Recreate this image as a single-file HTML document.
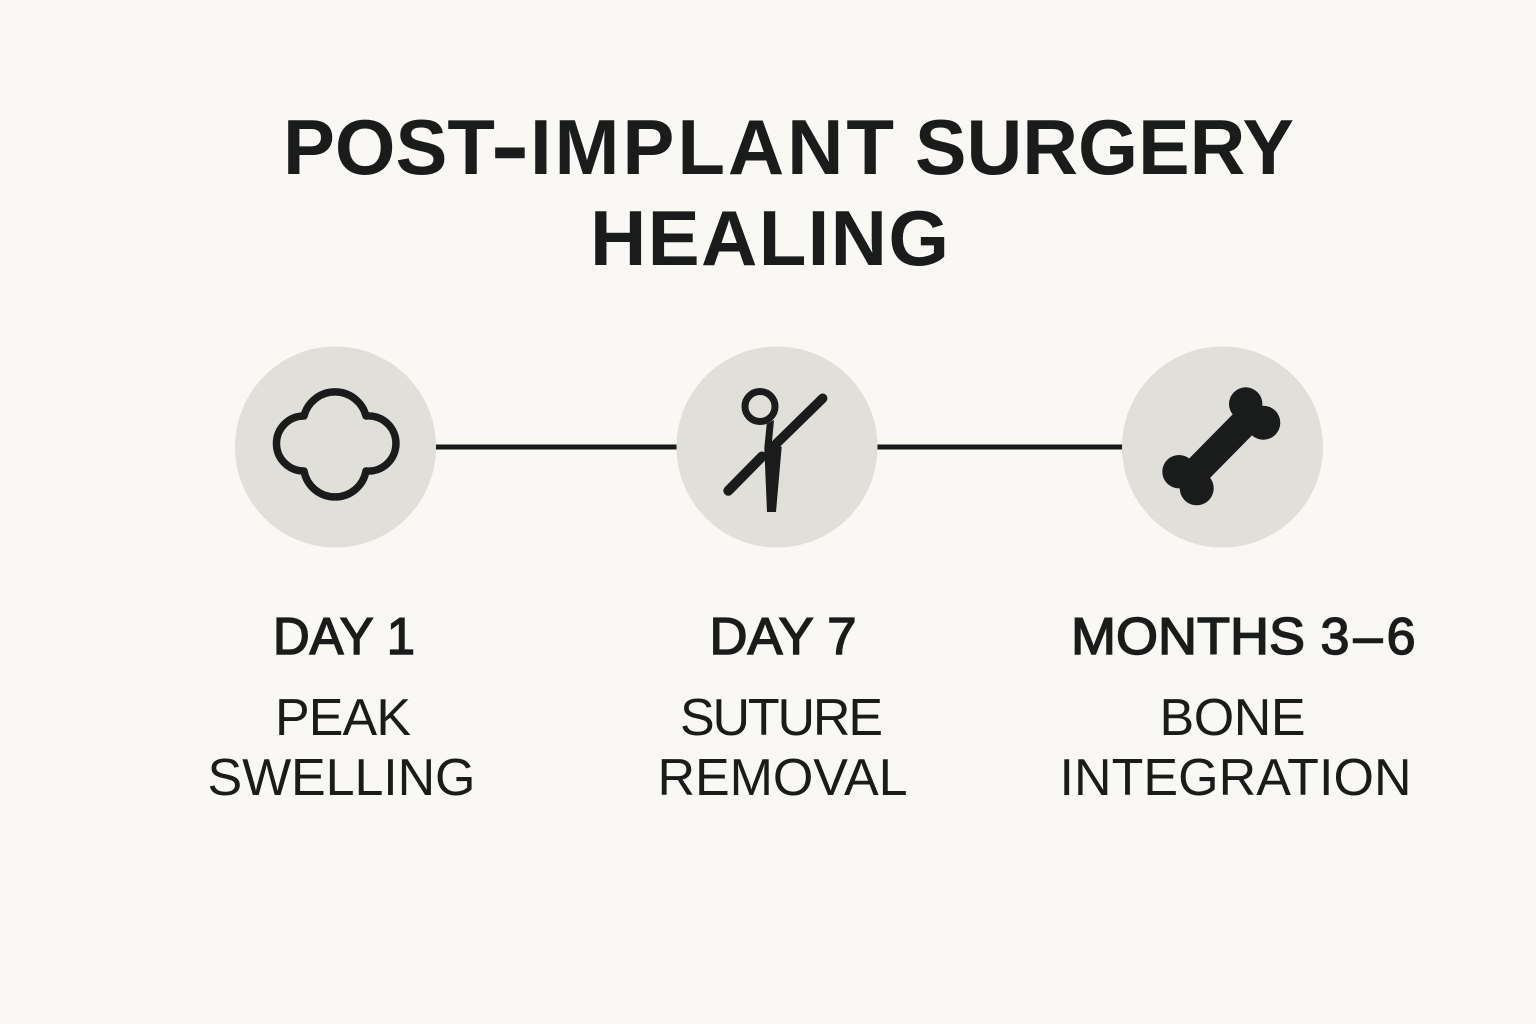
<!DOCTYPE html>
<html><head><meta charset="utf-8"><title>Post-Implant Surgery Healing</title>
<style>html,body{margin:0;padding:0;background:#f9f8f4}svg{display:block}
text{font-family:"Liberation Sans",Arial,sans-serif;fill:#191c1b}
.t{font-size:78px;font-weight:700}
.h{font-size:52px;stroke:#191c1b;stroke-width:1.5px}
.b{font-size:52px}</style></head>
<body>
<svg width="1536" height="1024" viewBox="0 0 1536 1024" xmlns="http://www.w3.org/2000/svg">
<rect width="1536" height="1024" fill="#f9f8f4"/>
<text class="t" x="283" y="174" textLength="212" lengthAdjust="spacingAndGlyphs">POST</text>
<text class="t" x="492" y="173" textLength="36" lengthAdjust="spacingAndGlyphs" style="stroke:#191c1b;stroke-width:1.500px">-</text>
<text class="t" x="530" y="174" textLength="364" lengthAdjust="spacing">IMPLANT</text>
<text class="t" x="915" y="174" textLength="379" lengthAdjust="spacingAndGlyphs">SURGERY</text>
<text class="t" x="590" y="265" textLength="359" lengthAdjust="spacing">HEALING</text>
<rect x="430" y="444.500" width="250" height="5" fill="#191c1b"/>
<rect x="872" y="444.500" width="255" height="5" fill="#191c1b"/>
<circle cx="335.500" cy="447" r="100.500" fill="#e0dfda"/>
<circle cx="777" cy="447" r="100.500" fill="#e0dfda"/>
<circle cx="1222.500" cy="447" r="100.500" fill="#e0dfda"/>
<path d="M304 416A32 32 0 0 1 366 416A27.600 27.600 0 1 1 366 471A31.500 31.500 0 0 1 304 471A27.500 27.500 0 1 1 304 416Z" fill="none" stroke="#191c1b" stroke-width="7.500" stroke-linejoin="round"/>
<circle cx="760" cy="406.500" r="15" fill="none" stroke="#191c1b" stroke-width="7"/>
<path d="M728.300 490.700L762 456.500" stroke="#191c1b" stroke-width="10" stroke-linecap="round" fill="none"/>
<path d="M776 444L822.700 398.300" stroke="#191c1b" stroke-width="9.500" stroke-linecap="round" fill="none"/>
<path d="M766.700 424L774 420L771.700 445L781.700 446.700L776 512L767 512L764.300 448Z" fill="#191c1b"/>
<g fill="#191c1b">
<circle cx="1245.700" cy="404" r="16.700"/><circle cx="1263.300" cy="422.700" r="17"/>
<circle cx="1179" cy="471.700" r="16.700"/><circle cx="1196.700" cy="488.300" r="17"/>
</g>
<path d="M1254 413L1188 480" stroke="#191c1b" stroke-width="28.500" fill="none"/>
<text class="h" x="273" y="654" textLength="142" lengthAdjust="spacingAndGlyphs">DAY 1</text>
<text class="h" x="709.500" y="654" textLength="147" lengthAdjust="spacingAndGlyphs">DAY 7</text>
<text class="h" x="1071" y="654" textLength="234" lengthAdjust="spacingAndGlyphs">MONTHS</text>
<text class="h" x="1320.500" y="654" textLength="95" lengthAdjust="spacing">3–6</text>
<text class="b" x="275" y="735" textLength="136" lengthAdjust="spacing">PEAK</text>
<text class="b" x="207.500" y="795" textLength="268" lengthAdjust="spacing">SWELLING</text>
<text class="b" x="680" y="735" textLength="203" lengthAdjust="spacing">SUTURE</text>
<text class="b" x="657.500" y="795" textLength="250" lengthAdjust="spacing">REMOVAL</text>
<text class="b" x="1159.500" y="735" textLength="146" lengthAdjust="spacing">BONE</text>
<text class="b" x="1059.500" y="795" textLength="352" lengthAdjust="spacing">INTEGRATION</text>
</svg>
</body></html>
